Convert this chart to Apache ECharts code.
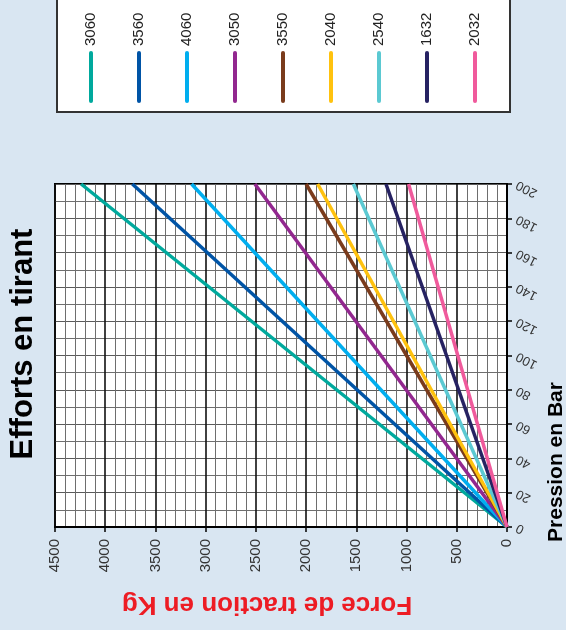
<!DOCTYPE html>
<html>
<head>
<meta charset="utf-8">
<script src="https://cdn.jsdelivr.net/npm/echarts@6/dist/echarts.min.js"></script>
<style>
html,body{margin:0;padding:0;background:#d9e6f2;}
#chart{width:566px;height:630px;}
</style>
</head>
<body>
<div id="chart"></div>
<script>
// Data: force (kg) at 200 bar, lines start at 0
const seriesNames = ['3060','3560','4060','3050','3550','2040','2540','1632','2032'];
const seriesColors = ['#00a99d','#0054a6','#00aeef','#92278f','#7a3b1c','#ffc20e','#5bc9d2','#262262','#f05a9c'];
const pressures = [0, 200];
const forceAt0 = [0,0,0,0,0,0,0,0,0];
const forceAt200 = [4240,3730,3140,2510,2000,1885,1530,1205,980];
const forceTicks = [0,500,1000,1500,2000,2500,3000,3500,4000,4500];
const pressureTicks = [0,20,40,60,80,100,120,140,160,180,200];

const FONT = 'Liberation Sans, Arial, sans-serif';
const chart = echarts.init(document.getElementById('chart'), null, {renderer:'canvas'});

const series = seriesNames.map((n,i)=>({
  name:n, type:'line', showSymbol:false, silent:true, animation:false,
  lineStyle:{color:seriesColors[i], width:3.5},
  data:[[forceAt0[i], pressures[0]],[forceAt200[i], pressures[1]]]
}));

// legend drawn as graphic (rotated labels)
const legendGraphics = [{
  type:'rect', shape:{x:57,y:-4,width:453,height:116},
  style:{fill:'#fff', stroke:'#333', lineWidth:2}, z:10
}];
seriesNames.forEach((n,i)=>{
  const cx = 91 + i*48;
  legendGraphics.push({
    type:'text', x:cx, y:46, rotation:Math.PI/2, z:11,
    style:{text:n, fill:'#222', font:'15px '+FONT, textAlign:'left', textVerticalAlign:'middle'}
  });
  legendGraphics.push({
    type:'line', shape:{x1:cx,y1:53,x2:cx,y2:101}, z:11,
    style:{stroke:seriesColors[i], lineWidth:4, lineCap:'round'}
  });
});

chart.setOption({
  animation:false,
  backgroundColor:'#d9e6f2',
  grid:{left:55, right:59, top:184, bottom:103, show:true, backgroundColor:'#fff', borderColor:'#000', borderWidth:2},
  xAxis:{
    type:'value', inverse:true, min:forceTicks[0], max:forceTicks[forceTicks.length-1], interval:500,
    axisLine:{show:true, lineStyle:{color:'#000', width:2}},
    axisTick:{show:true, inside:false, length:5, lineStyle:{color:'#000', width:1.5}},
    axisLabel:{rotate:90, fontSize:15, color:'#333', fontFamily:FONT, margin:12,
      formatter:v=>forceTicks.includes(v)?String(v):''},
    splitLine:{show:true, lineStyle:{color:'#111', width:1.6}},
    minorTick:{show:false, splitNumber:5},
    minorSplitLine:{show:true, lineStyle:{color:'#6e6e6e', width:1}}
  },
  yAxis:{
    type:'value', position:'right', min:pressureTicks[0], max:pressureTicks[pressureTicks.length-1], interval:20,
    axisLine:{show:true, lineStyle:{color:'#000', width:2}},
    axisTick:{show:true, inside:false, length:5, lineStyle:{color:'#000', width:1.5}},
    axisLabel:{rotate:153, fontSize:13, color:'#333', fontFamily:FONT, margin:10,
      formatter:v=>pressureTicks.includes(v)?String(v):''},
    splitLine:{show:true, lineStyle:{color:'#5a5a5a', width:1}},
    minorTick:{show:false, splitNumber:2},
    minorSplitLine:{show:true, lineStyle:{color:'#6e6e6e', width:1}}
  },
  series:series,
  graphic:legendGraphics.concat([
    {type:'text', x:23, y:344, rotation:Math.PI/2, z:11,
     style:{text:'Efforts en tirant', fill:'#000', font:'bold 31px '+FONT, textAlign:'center', textVerticalAlign:'middle'}},
    {type:'text', x:556, y:462, rotation:Math.PI/2, z:11,
     style:{text:'Pression en Bar', fill:'#000', font:'bold 21px '+FONT, textAlign:'center', textVerticalAlign:'middle'}},
    {type:'text', x:267, y:604, rotation:Math.PI, z:11,
     style:{text:'Force de traction en Kg', fill:'#ed1c24', font:'bold 26px '+FONT, textAlign:'center', textVerticalAlign:'middle'}}
  ])
});
</script>
</body>
</html>
